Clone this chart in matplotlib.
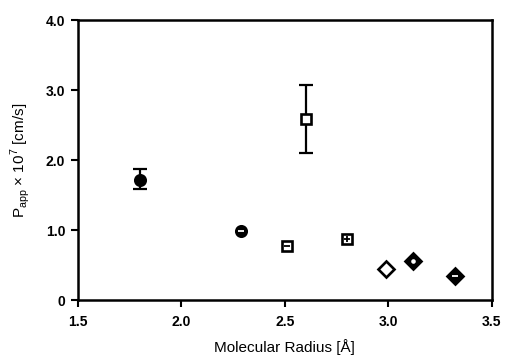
import numpy as np
import matplotlib
matplotlib.use("Agg")
from matplotlib import pyplot as plt

plt.rcParams["font.family"] = ["Liberation Sans", "DejaVu Sans"]

# data
radius = [1.80, 2.29, 2.51, 2.60, 2.80, 2.99, 3.12, 3.32]
papp = [1.72, 0.98, 0.77, 2.58, 0.87, 0.45, 0.56, 0.34]
err_lo = [0.14, 0.0, 0.0, 0.48, 0.0, 0.0, 0.0, 0.0]
err_hi = [0.15, 0.0, 0.0, 0.49, 0.0, 0.0, 0.0, 0.0]
# marker shape, face colour, inner mark, inner colour
styles = [
    ("o", "black", None, None),
    ("o", "black", "_", "white"),
    ("s", "white", "_", "black"),
    ("s", "white", None, None),
    ("s", "white", "+", "black"),
    ("D", "white", None, None),
    ("D", "black", ".", "white"),
    ("D", "black", "_", "white"),
]

fig = plt.figure(figsize=(5.05, 3.58), dpi=100)
ax = fig.add_axes([0.154, 0.162, 0.82, 0.782])

for i, (xx, yy) in enumerate(zip(radius, papp)):
    if err_lo[i] > 0:
        ax.errorbar(xx, yy, yerr=[[err_lo[i]], [err_hi[i]]], fmt="none",
                    ecolor="black", elinewidth=1.6, capsize=5, capthick=1.6,
                    zorder=2)
    m, fc, inner, ic = styles[i]
    ms = 8 if m == "D" else 7.5
    ax.plot(xx, yy, marker=m, ms=ms, mfc=fc, mec="black", mew=1.9,
            linestyle="none", zorder=3)
    if inner is not None:
        ax.plot(xx, yy, marker=inner, ms=4, mec=ic, mfc=ic, mew=1.3,
                linestyle="none", zorder=4)

ax.set_xlim(1.5, 3.5)
ax.set_ylim(0, 4.0)
ax.set_xticks([1.5, 2.0, 2.5, 3.0, 3.5])
ax.set_xticklabels(["1.5", "2.0", "2.5", "3.0", "3.5"])
ax.set_yticks([0, 1, 2, 3, 4])
ax.set_yticklabels(["0", "1.0", "2.0", "3.0", "4.0"])
for lab in ax.get_xticklabels() + ax.get_yticklabels():
    lab.set_fontweight("bold")
    lab.set_fontsize(10)
ax.tick_params(axis="x", direction="out", length=5, width=1.5, pad=6)
ax.tick_params(axis="y", direction="out", length=5, width=1.5, pad=4)
for sp in ax.spines.values():
    sp.set_linewidth(1.8)

ax.set_xlabel("Molecular Radius [Å]", fontsize=11, labelpad=7)
ax.set_ylabel(r"P$_{\mathregular{app}}$ × 10$^{\mathregular{7}}$ [cm/s]",
              fontsize=11, labelpad=10)

fig.savefig("out.png", dpi=100)
